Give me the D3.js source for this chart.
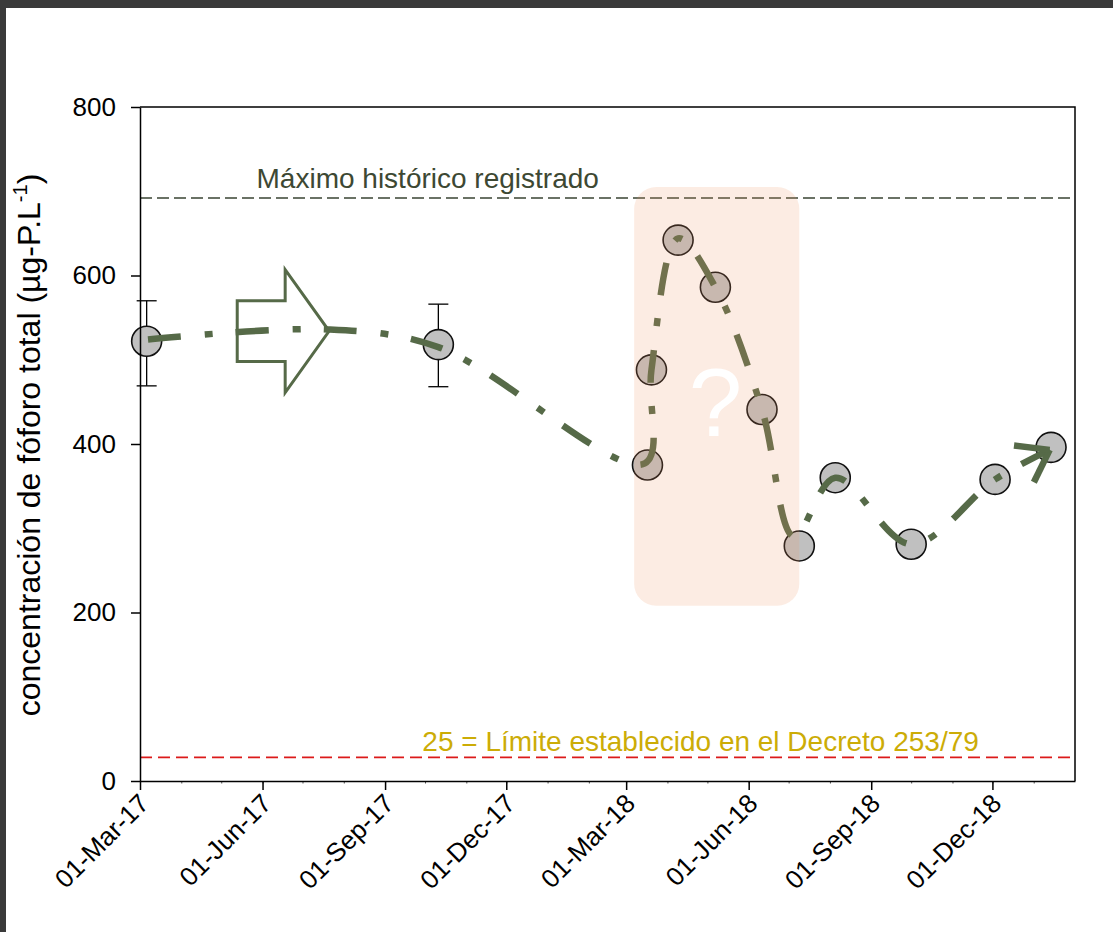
<!DOCTYPE html>
<html>
<head>
<meta charset="utf-8">
<script src="https://cdn.jsdelivr.net/npm/d3@7"></script>
<style>
  body { margin: 0; background: #fff; }
  svg text { font-family: "Liberation Sans", Arial, sans-serif; }
</style>
</head>
<body>
<script>
// sampling dates and total phosphorus (ug-P/L)
var dates = ["2017-03-06", "2017-10-11", "2018-03-17", "2018-03-20", "2018-04-09", "2018-05-07",
             "2018-06-11", "2018-07-09", "2018-08-05", "2018-10-01", "2018-12-03", "2019-01-14"];
var values = [522, 518, 375, 488, 642, 586, 441, 279, 360, 281, 358, 396];

// error bars, only the first two samples have them
var errDates = ["2017-03-06", "2017-10-11"];
var errLow = [469, 468];
var errHigh = [570, 566];

// hand drawn trend line (bends up at the big arrow)
var trendDates = ["2017-03-07", "2017-07-20", "2017-10-11", "2018-03-15", "2018-03-20", "2018-04-09",
                  "2018-05-07", "2018-06-11", "2018-07-05", "2018-08-05", "2018-10-01", "2018-12-03", "2019-01-13"];
var trendValues = [524, 536, 515, 377, 488, 644, 586, 441, 290, 360, 281, 358, 393];

var xTickDates = ["2017-03-01", "2017-06-01", "2017-09-01", "2017-12-01",
                  "2018-03-01", "2018-06-01", "2018-09-01", "2018-12-01"];
var yTicks = [0, 200, 400, 600, 800];

var maxHistoric = 692;   // Máximo histórico registrado
var limitLine = 28;      // Decreto 253/79

window.onload = function() {
  var parse = d3.timeParse("%Y-%m-%d");
  var fmt = d3.timeFormat("%d-%b-%y");

  var w = 1113, h = 932;
  var margin = {top: 107, right: 38, bottom: 151, left: 140};

  var svg = d3.select("body").append("svg")
              .attr("width", w)
              .attr("height", h);

  // dark frame from the screenshot
  svg.append("rect").attr("x", 0).attr("y", 0).attr("width", w).attr("height", 8).style("fill", "#3a3a3a");
  svg.append("rect").attr("x", 0).attr("y", 0).attr("width", 6).attr("height", h).style("fill", "#3a3a3a");

  var xScale = d3.scaleTime()
                 .domain([parse("2017-03-01"), parse("2019-02-01")])
                 .range([margin.left, w - margin.right]);

  var yScale = d3.scaleLinear()
                 .domain([0, 800])
                 .range([h - margin.bottom, margin.top]);

  var x0 = xScale.range()[0], x1 = xScale.range()[1];
  var y0 = yScale.range()[0], y1 = yScale.range()[1];

  // reference lines
  svg.append("line")
     .attr("x1", x0).attr("x2", x1)
     .attr("y1", yScale(maxHistoric)).attr("y2", yScale(maxHistoric))
     .style("stroke", "#3a4433").style("stroke-width", 1.5)
     .style("stroke-dasharray", "12,5");

  svg.append("text")
     .attr("x", xScale(parse("2017-06-01")) - 6)
     .attr("y", yScale(maxHistoric) - 10)
     .style("font-size", "28px")
     .style("fill", "#3d4833")
     .text("Máximo histórico registrado");

  svg.append("line")
     .attr("x1", x0).attr("x2", x1)
     .attr("y1", yScale(limitLine)).attr("y2", yScale(limitLine))
     .style("stroke", "#dc1a1a").style("stroke-width", 1.6)
     .style("stroke-dasharray", "12,6");

  svg.append("text")
     .attr("x", xScale(parse("2017-09-29")))
     .attr("y", yScale(limitLine) - 6)
     .style("font-size", "28px")
     .style("fill", "#ccac06")
     .text("25 = Límite establecido en el Decreto 253/79");

  // big hollow arrow
  var ax0 = xScale(parse("2017-05-13")), axNeck = xScale(parse("2017-06-18")), axTip = xScale(parse("2017-07-21"));
  var ay = yScale(534), bodyH = yScale(0) - yScale(36), headH = yScale(0) - yScale(73);
  var arrowPts = [[ax0, ay - bodyH], [axNeck, ay - bodyH], [axNeck, ay - headH], [axTip, ay],
                  [axNeck, ay + headH], [axNeck, ay + bodyH], [ax0, ay + bodyH]];
  svg.append("path")
     .attr("d", "M" + arrowPts.join("L") + "Z")
     .style("fill", "none")
     .style("stroke", "#566a48")
     .style("stroke-width", 3);

  // error bars
  errDates.forEach(function(d, i) {
    var cx = xScale(parse(d));
    svg.append("line")
       .attr("x1", cx).attr("x2", cx)
       .attr("y1", yScale(errLow[i])).attr("y2", yScale(errHigh[i]))
       .style("stroke", "#000").style("stroke-width", 1.3);
    [errLow[i], errHigh[i]].forEach(function(v) {
      svg.append("line")
         .attr("x1", cx - 10).attr("x2", cx + 10)
         .attr("y1", yScale(v)).attr("y2", yScale(v))
         .style("stroke", "#000").style("stroke-width", 1.3);
    });
  });

  // sample dots
  var data = dates.map(function(d, i) { return [parse(d), values[i]]; });
  svg.selectAll(".dots")
     .data(data)
     .enter().append("circle")
       .attr("class", "dots")
       .attr("r", 15)
       .attr("cx", function(d) { return xScale(d[0]); })
       .attr("cy", function(d) { return yScale(d[1]); })
       .style("fill", "#c0c0c0")
       .style("stroke", "#111")
       .style("stroke-width", 1.6);

  // trend line, dash-dot
  var trend = trendDates.map(function(d, i) { return [xScale(parse(d)), yScale(trendValues[i])]; });
  var line = d3.line().curve(d3.curveCatmullRom.alpha(0.5));
  svg.append("path")
     .attr("d", line(trend))
     .style("fill", "none")
     .style("stroke", "#566a48")
     .style("stroke-width", 6.5)
     .style("stroke-dasharray", "33,24,8,23");

  // open arrow head at the end of the trend
  var tip = trend[trend.length - 1], prev = trend[trend.length - 2];
  var ang = Math.atan2(tip[1] - prev[1], tip[0] - prev[0]);
  [-0.62, 0.62].forEach(function(a) {
    svg.append("line")
       .attr("x1", tip[0]).attr("y1", tip[1])
       .attr("x2", tip[0] - 36 * Math.cos(ang + a))
       .attr("y2", tip[1] - 36 * Math.sin(ang + a))
       .style("stroke", "#566a48")
       .style("stroke-width", 6.5);
  });

  // "?" box over the doubtful samples
  var bx0 = xScale(parse("2018-03-07")), bx1 = xScale(parse("2018-07-09"));
  svg.append("rect")
     .attr("x", bx0).attr("y", yScale(705))
     .attr("width", bx1 - bx0)
     .attr("height", yScale(208) - yScale(705))
     .attr("rx", 22).attr("ry", 22)
     .style("fill", "rgb(238,152,100)")
     .style("opacity", 0.18);

  svg.append("text")
     .attr("x", xScale(parse("2018-05-07")))
     .attr("y", yScale(410))
     .attr("text-anchor", "middle")
     .style("font-size", "96px")
     .style("fill", "#fff")
     .text("?");

  // axes
  var yAxis = d3.axisLeft(yScale).tickValues(yTicks).tickSize(9).tickSizeOuter(0).tickPadding(15);
  svg.append("g")
     .attr("class", "axis")
     .attr("transform", "translate(" + x0 + ",0)")
     .call(yAxis);

  // small monthly ticks
  var monthTicks = d3.timeMonth.range(parse("2017-03-01"), parse("2019-01-15"));
  svg.append("g")
     .attr("class", "minor")
     .attr("transform", "translate(0," + y0 + ")")
     .call(d3.axisBottom(xScale).tickValues(monthTicks).tickSize(2.5).tickFormat(""))
     .call(function(g) { g.select(".domain").remove(); });
  svg.selectAll(".minor line").style("stroke", "#000").style("stroke-width", 0.7);

  var xAxis = d3.axisBottom(xScale)
                .tickValues(xTickDates.map(parse))
                .tickSize(9)
                .tickSizeOuter(0)
                .tickFormat(fmt);
  var gx = svg.append("g")
     .attr("class", "axis")
     .attr("transform", "translate(0," + y0 + ")")
     .call(xAxis);

  gx.selectAll("text")
    .attr("y", 0).attr("dy", 0)
    .attr("transform", "translate(10,24) rotate(-45)")
    .style("text-anchor", "end");

  svg.selectAll(".axis text").style("font-size", "26px").style("fill", "#000");
  svg.selectAll(".axis line").style("stroke", "#000").style("stroke-width", 1.5);
  svg.selectAll(".axis path").style("stroke", "#000").style("stroke-width", 1.5);

  // top and right spines
  svg.append("path")
     .attr("d", "M" + x0 + "," + y1 + "H" + x1 + "V" + y0)
     .style("fill", "none")
     .style("stroke", "#000")
     .style("stroke-width", 1.5);

  // y label
  var lab = svg.append("text")
     .attr("transform", "translate(40," + ((y0 + y1) / 2 + 1) + ") rotate(-90)")
     .attr("text-anchor", "middle")
     .style("font-size", "32px")
     .style("fill", "#000");
  lab.append("tspan").text("concentración de fóforo total (µg-P.L");
  lab.append("tspan").attr("dy", -13).style("font-size", "20px").text("-1");
  lab.append("tspan").attr("dy", 13).text(")");
};
</script>
</body>
</html>
